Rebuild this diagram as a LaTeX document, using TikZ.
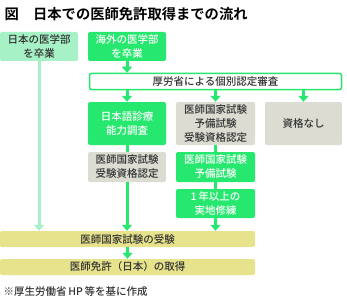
\documentclass[tikz,border=0pt]{standalone}
\usepackage{fontspec}
\setmainfont{Noto Sans CJK JP}[UprightFont=* Medium,BoldFont=* Bold]
\usepackage{tikz}
\usetikzlibrary{arrows.meta,positioning}

\definecolor{vivid}{HTML}{26E86E}
\definecolor{pale}{HTML}{A6F2C6}
\definecolor{stone}{HTML}{DCDCD2}
\definecolor{straw}{HTML}{E6E38C}
\definecolor{ink}{HTML}{333333}

\begin{document}
\begin{tikzpicture}[x=1pt,y=-1pt,
  box/.style={rounded corners=2pt,inner sep=0pt,align=center,text=ink,
              font=\fontsize{10.5}{14}\selectfont},
  greenbox/.style={box,fill=vivid,text=white},
  palebox/.style={box,fill=pale},
  graybox/.style={box,fill=stone},
  yellowbox/.style={box,fill=straw,minimum width=255pt,minimum height=16pt},
  flow/.style={line width=3pt,vivid},
  paleflow/.style={line width=3pt,pale},
  tip/.style={-{Triangle[width=10pt,length=6pt]}}]
\useasboundingbox (0,0) rectangle (347,302);

\node[anchor=west,font=\bfseries\fontsize{14.3}{16}\selectfont] (title) at (1,14) {図　日本での医師免許取得までの流れ};

% top row
\node[palebox,minimum width=78pt,minimum height=29pt] (nihon) at (39,46.5) {日本の医学部\\を卒業};
\node[greenbox,minimum width=78pt,minimum height=29pt] (kaigai) at (127,46.5) {海外の医学部\\を卒業};
\node[box,draw=vivid,line width=1.5pt,fill=white,minimum width=252pt,minimum height=16pt] (shinsa) at (215.5,81.5) {厚労省による個別認定審査};

% middle row
\node[greenbox,minimum width=78pt,minimum height=43pt] (nihongo) at (127,123.5) {日本語診療\\能力調査};
\node[graybox,minimum width=79pt,minimum height=43pt] (yobinintei) at (215.5,123.5) {医師国家試験\\予備試験\\受験資格認定};
\node[graybox,minimum width=77pt,minimum height=43pt] (nashi) at (303.5,123.5) {資格なし};

\node[graybox,minimum width=78pt,minimum height=30pt] (jukennintei) at (127,167) {医師国家試験\\受験資格認定};
\node[greenbox,minimum width=79pt,minimum height=30pt] (yobishiken) at (215.5,167) {医師国家試験\\予備試験};
\node[greenbox,minimum width=79pt,minimum height=29pt] (shuren) at (215.5,203.5) {1\,年以上の\\実地修練};

% bottom row
\node[yellowbox] (juken) at (127.5,239) {医師国家試験の受験};
\node[yellowbox] (menkyo) at (127.5,267) {医師免許（日本）の取得};

\node[anchor=west,text=ink,font=\fontsize{10.5}{12}\selectfont] (note) at (0,292) {※厚生労働省\,HP\,等を基に作成};

% arrows
\draw[flow,tip] (kaigai) -- (kaigai |- shinsa.north);
\draw[flow,tip] (shinsa.south -| nihongo) -- (nihongo);
\draw[flow,tip] (shinsa.south -| yobinintei) -- (yobinintei);
\draw[flow,tip] (shinsa.south -| nashi) -- (nashi);
\draw[flow] (nihongo) -- (jukennintei);
\draw[flow,tip] (jukennintei) -- (jukennintei |- juken.north);
\draw[flow] (yobinintei) -- (yobishiken);
\draw[flow] (yobishiken) -- (shuren);
\draw[flow,tip] (shuren) -- (shuren |- juken.north);
\draw[paleflow,tip] (nihon) -- (nihon |- juken.north);
\draw[flow,tip] (juken) -- (menkyo);
\end{tikzpicture}
\end{document}
